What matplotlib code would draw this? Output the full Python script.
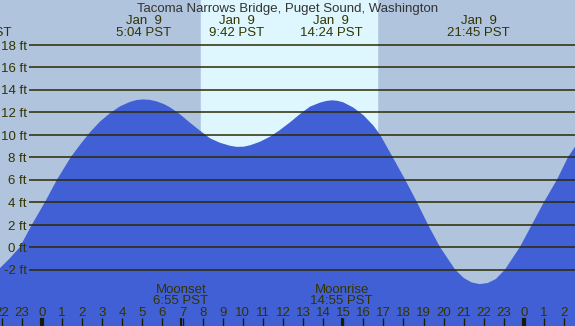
import numpy as np
import matplotlib.pyplot as plt

plt.rcParams['font.family'] = ['Liberation Sans', 'DejaVu Sans']

# tide curve (hours from midnight Jan 9, feet)
tideHours = [-3.1, -2.6, -2.09, -1.6, -1.1, -0.5, 0.15, 0.75, 1.44, 1.9, 2.39, 2.89, 3.39,
             3.88, 4.38, 4.7, 5.05, 5.4, 5.71, 6.05, 6.37, 6.87, 7.37, 7.87, 8.37, 8.86,
             9.36, 9.7, 10.05, 10.36, 10.86, 11.35, 11.85, 12.35, 12.85, 13.35, 13.84,
             14.15, 14.43, 14.7, 15.0, 15.5, 16.0, 16.5, 16.83, 17.43, 18.08, 18.67,
             19.22, 19.82, 20.57, 21.0, 21.4, 21.8, 22.2, 22.6, 23.06, 23.8, 24.4, 25.0,
             25.65, 26.2, 26.54, 26.9]
tideFeet = [-3.0, -2.6, -1.87, -1.0, 0.0, 2.0, 4.0, 6.0, 8.0, 9.1, 10.2, 11.15, 11.9,
            12.5, 12.9, 13.06, 13.12, 13.07, 12.94, 12.72, 12.42, 11.8, 11.05, 10.34, 9.66, 9.27,
            9.0, 8.9, 8.92, 9.04, 9.36, 9.8, 10.4, 11.08, 11.82, 12.48, 12.83,
            12.98, 13.04, 13.0, 12.86, 12.4, 11.73, 10.8, 10.0, 8.1, 6.0, 4.0,
            2.0, 0.0, -2.0, -2.75, -3.15, -3.3, -3.2, -2.85, -2.0, 0.0, 2.0, 4.0,
            6.0, 8.0, 8.9, 9.7]

# high / low tide labels
extremeHours = [-3.1, 5.07, 9.70, 14.40, 21.75]
extremeDates = ["Jan  8", "Jan  9", "Jan  9", "Jan  9", "Jan  9"]
extremeTimes = ["20:54 PST", "5:04 PST", "9:42 PST", "14:24 PST", "21:45 PST"]

# moon events
moonHours = [6.92, 14.92]
moonNames = ["Moonset", "Moonrise"]
moonTimes = ["6:55 PST", "14:55 PST"]

sunrise = 7.92
sunset = 16.68

gridFeet = [18, 16, 14, 12, 10, 8, 6, 4, 2, 0, -2]
hourTicks = np.arange(-2, 27)

pxPerHour = 20.08
pxPerFoot = 11.25
x0, y0 = 42, 247  # pixel position of midnight / 0 ft
W, H = 575, 326


def fx(px):
    return (px - x0) / pxPerHour


def fy(py):
    return (y0 - py) / pxPerFoot


textColor = "#333300"
fs = 9.5
fig = plt.figure(figsize=(W / 100, H / 100), dpi=100)
ax = fig.add_axes([0, 0, 1, 1])
ax.set_xlim(fx(0), fx(W))
ax.set_ylim(fy(H), fy(0))
ax.axis("off")
fig.patch.set_facecolor("#b0c4de")

ax.axvspan(sunrise, sunset, color="#def7ff", zorder=1)
ax.fill_between(tideHours, tideFeet, fy(H + 5), color="#4160d6", lw=0, zorder=2)

ax.hlines(gridFeet, fx(29), fx(W), color="#2b2b00", lw=1.1, zorder=3)
for g in gridFeet:
    ax.text(fx(27), g - 5 / pxPerFoot, f"{g} ft", ha="right", va="baseline",
            fontsize=fs, color=textColor)

ax.text(fx(W / 2), fy(12), "Tacoma Narrows Bridge, Puget Sound, Washington",
        ha="center", va="baseline", fontsize=fs, color="#333333")
for h, d, t in zip(extremeHours, extremeDates, extremeTimes):
    ax.text(h, fy(24), d, ha="center", va="baseline", fontsize=fs, color=textColor)
    ax.text(h, fy(36.5), t, ha="center", va="baseline", fontsize=fs, color=textColor)

for h, n, t in zip(moonHours, moonNames, moonTimes):
    ax.text(h, fy(293), n, ha="center", va="baseline", fontsize=fs, color=textColor)
    ax.text(h, fy(304), t, ha="center", va="baseline", fontsize=fs, color=textColor)

for h in hourTicks:
    ax.text(h, fy(316), str(h % 24), ha="center", va="baseline", fontsize=fs, color=textColor)
    lw = 3 if h % 24 == 0 else 1
    ax.vlines(h, fy(H), fy(318), color="#1a1a00", lw=lw, zorder=4)
for h in moonHours:
    ax.vlines(h, fy(H), fy(318), color="#1a1a00", lw=1.5, zorder=4)

fig.savefig("out.png", dpi=100, facecolor=fig.get_facecolor())
